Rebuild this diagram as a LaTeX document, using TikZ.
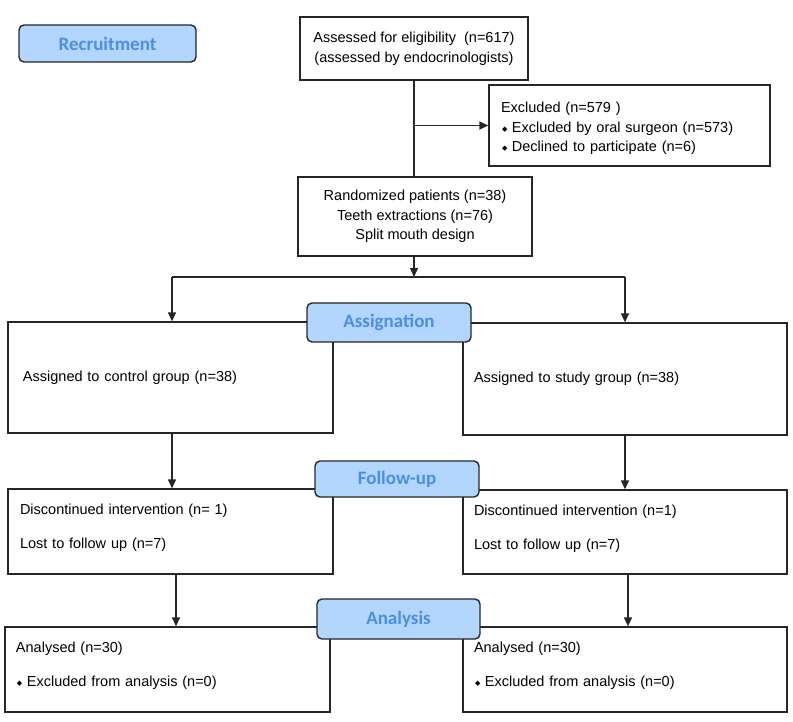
\documentclass[tikz,border=0pt]{standalone}
\usepackage{fontspec}
\setmainfont{Liberation Sans}
\newfontfamily\lblfont{Carlito}
\newfontfamily\symfont{DejaVu Sans}
\usetikzlibrary{arrows.meta}
\definecolor{lblfill}{HTML}{B3D6FF}
\definecolor{lbltext}{HTML}{4A8FE7}
\definecolor{edge}{HTML}{262626}
\newcommand\dmd{\raisebox{1pt}{\symfont\fontsize{7}{7}\selectfont ◆}}
\begin{document}
\begin{tikzpicture}[x=1pt,y=-1pt,
  box/.style={draw=edge, line width=1.3pt, rectangle, inner ysep=0pt,
    font=\fontsize{14.5}{19.5}\selectfont},
  stage/.style={draw=edge, line width=1.4pt, rounded corners=5pt, fill=lblfill,
    text=lbltext, font=\lblfont\bfseries\fontsize{19}{22}\selectfont, inner sep=0pt},
  arr/.style={-{Triangle[length=9pt,width=8pt]}, line width=1.3pt, draw=edge},
  link/.style={line width=1.3pt, draw=edge}]
\useasboundingbox (0,0) rectangle (793,721);

% boxes
\node[box, minimum width=228pt, minimum height=63pt, align=center] (assess) at (414,48.5)
  {Assessed for eligibility\ \ (n=617)\\(assessed by endocrinologists)};
\node[box, minimum width=281pt, minimum height=81pt, inner xsep=12pt, text width=257pt, align=left, text depth=36pt] (excl) at (629.5,125.5)
  {Excluded (n=579 )\\\hspace*{1pt}\dmd\hspace{4.5pt}Excluded by oral surgeon (n=573)\\\hspace*{1pt}\dmd\hspace{4.5pt}Declined to participate (n=6)};
\node[box, minimum width=234pt, minimum height=79pt, align=center] (rand) at (415,216.5)
  {Randomized patients (n=38)\\Teeth extractions (n=76)\\Split mouth design};

\node[box, minimum width=325pt, minimum height=111pt, inner xsep=15pt, text width=295pt, align=left] (ctrl) at (170.5,377.5)
  {Assigned to control group (n=38)};
\node[box, minimum width=324pt, minimum height=112pt, inner xsep=11pt, text width=302pt, align=left] (study) at (625,379)
  {Assigned to study group (n=38)};

\node[box, minimum width=325pt, minimum height=85pt, inner xsep=12pt, text width=301pt, align=left, text depth=44pt] (fl) at (170.5,531.5)
  {Discontinued intervention (n= 1)\\[14.5pt]Lost to follow up (n=7)};
\node[box, minimum width=324pt, minimum height=84pt, inner xsep=11pt, text width=302pt, align=left, text depth=44pt] (fr) at (625,532)
  {Discontinued intervention (n=1)\\[14.5pt]Lost to follow up (n=7)};

\node[box, minimum width=325pt, minimum height=85pt, inner xsep=11pt, text width=303pt, align=left, text depth=45pt] (al) at (167.5,669.5)
  {Analysed (n=30)\\[15pt]\hspace*{1pt}\dmd\hspace{4.5pt}Excluded from analysis (n=0)};
\node[box, minimum width=324pt, minimum height=85pt, inner xsep=11pt, text width=302pt, align=left, text depth=45pt] (ar) at (625,669.5)
  {Analysed (n=30)\\[15pt]\hspace*{1pt}\dmd\hspace{4.5pt}Excluded from analysis (n=0)};

% connectors
\draw[link] (assess.south) -- (assess.south |- rand.north);
\draw[arr] (assess.south |- excl.west) -- (excl.west);
\coordinate (split) at (414,277);
\draw[arr] (rand.south -| split) -- (split);
\draw[link] ([xshift=1.5pt]ctrl.north |- split) -- (study.north |- split);
\draw[arr] ([xshift=1.5pt]ctrl.north |- split) -- ([xshift=1.5pt]ctrl.north);
\draw[arr] (study.north |- split) -- (study.north);

\draw[arr] ([xshift=1.5pt]ctrl.south) -- ([xshift=1.5pt]ctrl.south |- fl.north);
\draw[arr] (study.south) -- (study.south |- fr.north);
\draw[arr] ([xshift=5.5pt]fl.south) -- ([xshift=5.5pt]fl.south |- al.north);
\draw[arr] ([xshift=3pt]fr.south) -- ([xshift=3pt]fr.south |- ar.north);

% stage labels
\node[stage, minimum width=177pt, minimum height=37pt] (recr) at (107.5,43.5) {Recruitment};
\node[stage, minimum width=164pt, minimum height=39pt] (assig) at (389,322.5) {Assignation};
\node[stage, minimum width=164pt, minimum height=36pt] (follow) at (397,479) {Follow-up};
\node[stage, minimum width=163pt, minimum height=40pt] (anal) at (398.5,619) {Analysis};
\end{tikzpicture}
\end{document}
